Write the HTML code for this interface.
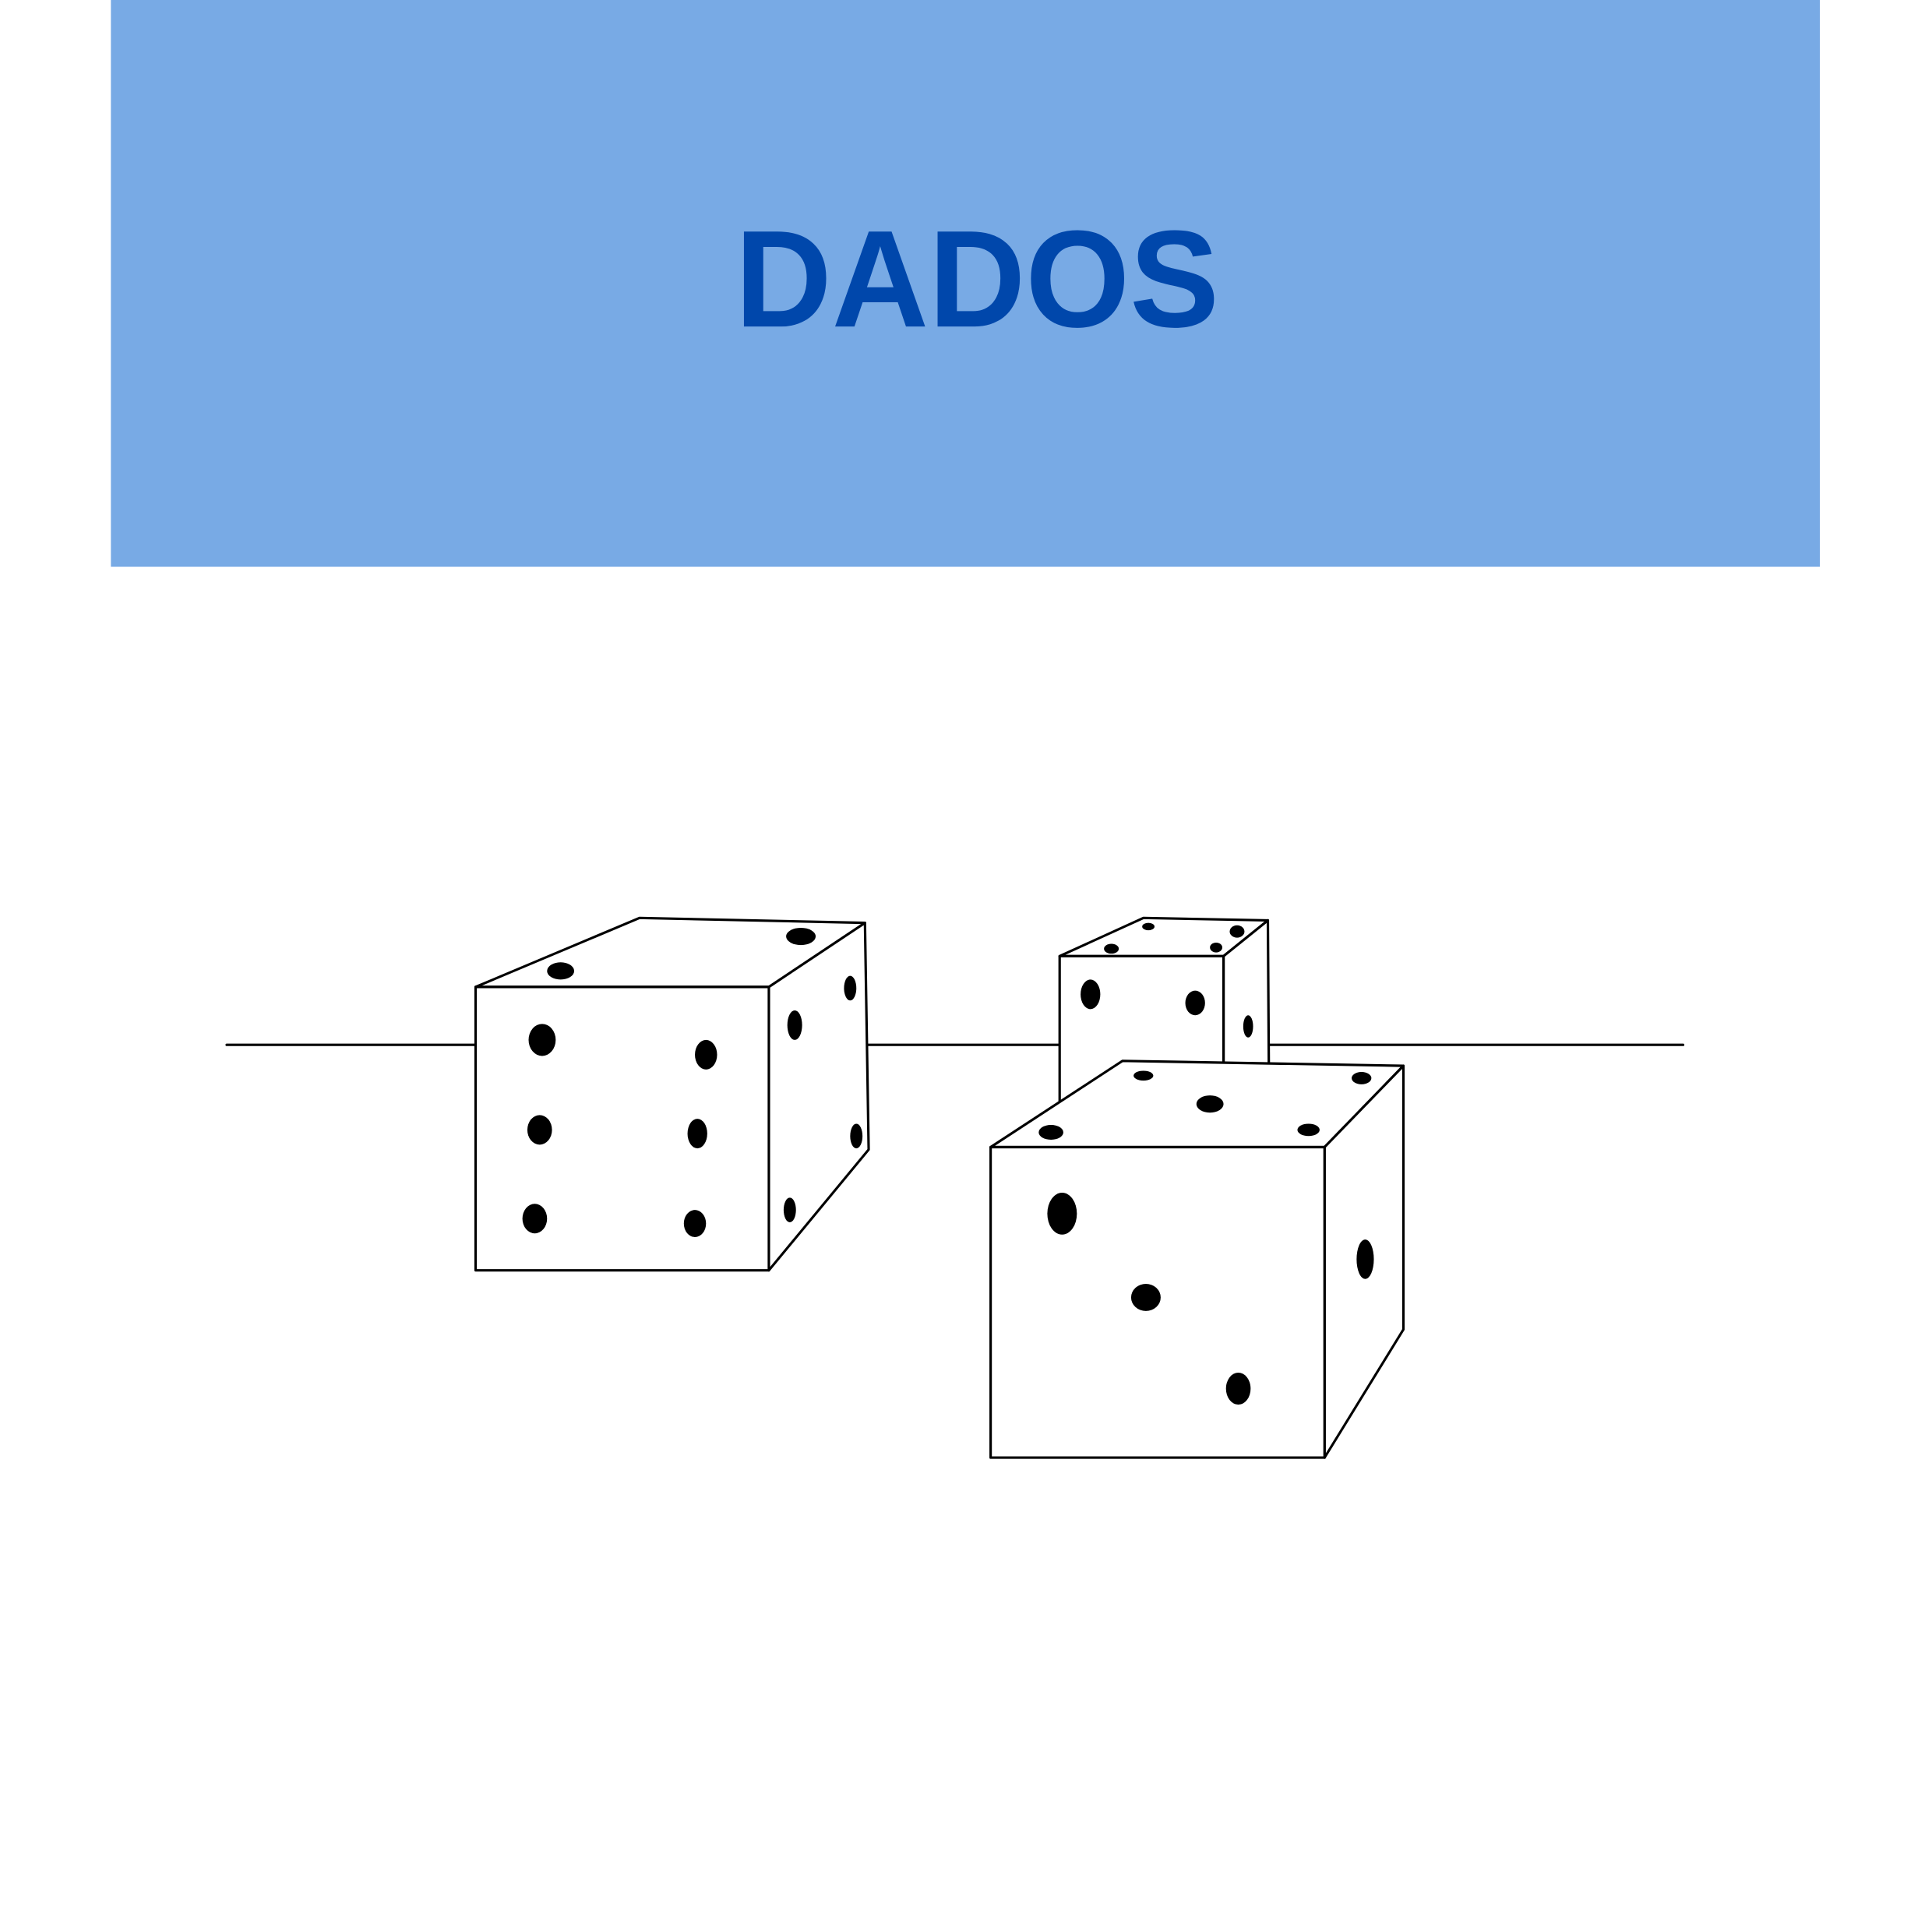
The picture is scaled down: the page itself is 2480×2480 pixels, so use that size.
<!DOCTYPE html>
<html><head><meta charset="utf-8"><style>
html,body{margin:0;padding:0;background:#fff;}
svg{display:block;}
</style></head><body>
<svg width="2480" height="2480" viewBox="0 0 1568 1568" xmlns="http://www.w3.org/2000/svg">
<rect x="0" y="0" width="1568" height="1568" fill="#fff"/>
<rect x="90" y="0" width="1387" height="460" fill="#78aae5"/>
<text x="793" y="265" text-anchor="middle" font-family="Liberation Sans, sans-serif" font-weight="bold" font-size="112" fill="#0047ab" textLength="393" lengthAdjust="spacingAndGlyphs">DADOS</text>
<g stroke="#000" stroke-width="2" stroke-linejoin="round" stroke-linecap="round">
<line x1="184" y1="848" x2="1366" y2="848"/>
<!-- cube 1 -->
<polygon points="386,801 519,745 702,749 624,801" fill="#fff"/>
<polygon points="624,801 702,749 705,933 624,1031" fill="#fff"/>
<rect x="386" y="801" width="238" height="230" fill="#fff"/>
<!-- cube 2 -->
<polygon points="860,776 928,745 1029,747 993,776" fill="#fff"/>
<polygon points="993,776 1029,747 1030,900 993,900" fill="#fff"/>
<rect x="860" y="776" width="133" height="124" fill="#fff"/>
<!-- cube 3 -->
<polygon points="804,931 911,861 1139,865 1075,931" fill="#fff"/>
<polygon points="1075,931 1139,865 1139,1079 1075,1183" fill="#fff"/>
<rect x="804" y="931" width="271" height="252" fill="#fff"/>
</g>
<g fill="#000">
<ellipse cx="455" cy="788" rx="11" ry="7"/>
<ellipse cx="650" cy="760" rx="12" ry="7"/>
<ellipse cx="440" cy="844" rx="11" ry="13"/>
<ellipse cx="573" cy="856" rx="9" ry="12"/>
<ellipse cx="438" cy="917" rx="10" ry="12"/>
<ellipse cx="566" cy="920" rx="8" ry="12"/>
<ellipse cx="434" cy="989" rx="10" ry="12"/>
<ellipse cx="564" cy="993" rx="9" ry="11"/>
<ellipse cx="645" cy="832" rx="6" ry="12"/>
<ellipse cx="690" cy="802" rx="5" ry="10"/>
<ellipse cx="695" cy="922" rx="5" ry="10"/>
<ellipse cx="641" cy="982" rx="5" ry="10"/>
<ellipse cx="902" cy="770" rx="6" ry="4"/>
<ellipse cx="932" cy="752" rx="5" ry="3"/>
<ellipse cx="1004" cy="756" rx="6" ry="5"/>
<ellipse cx="987" cy="769" rx="5" ry="4"/>
<ellipse cx="885" cy="807" rx="8" ry="12"/>
<ellipse cx="970" cy="814" rx="8" ry="10"/>
<ellipse cx="1013" cy="833" rx="4" ry="9"/>
<ellipse cx="853" cy="919" rx="10" ry="6"/>
<ellipse cx="928" cy="873" rx="8" ry="4"/>
<ellipse cx="982" cy="896" rx="11" ry="7"/>
<ellipse cx="1062" cy="917" rx="9" ry="5"/>
<ellipse cx="1105" cy="875" rx="8" ry="5"/>
<ellipse cx="862" cy="985" rx="12" ry="17"/>
<ellipse cx="930" cy="1053" rx="12" ry="11"/>
<ellipse cx="1005" cy="1127" rx="10" ry="13"/>
<ellipse cx="1108" cy="1022" rx="7" ry="16"/>
</g>
</svg>
</body></html>
